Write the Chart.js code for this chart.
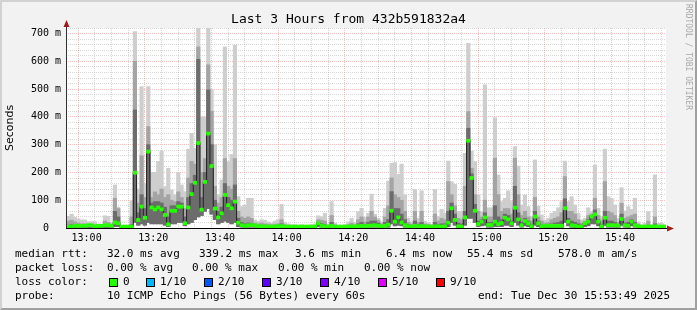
<!DOCTYPE html>
<html>
<head>
<meta charset="utf-8">
<title>Last 3 Hours from 432b591832a4</title>
<script src="https://cdn.jsdelivr.net/npm/chart.js@4.4.1/dist/chart.umd.min.js"></script>
<style>
  html, body { margin: 0; padding: 0; background: #f2f2f2; }
  #graph { position: relative; width: 697px; height: 310px; background: #f2f2f2; overflow: hidden;
           font-family: "DejaVu Sans Mono", monospace; color: #000; }
  #graph canvas { position: absolute; left: 0; top: 0; }
  .frame { position: absolute; left: 0; top: 0; width: 697px; height: 310px; box-sizing: border-box;
           border-top: 2px solid #d2d2d2; border-left: 2px solid #d2d2d2;
           border-right: 2px solid #a0a0a0; border-bottom: 2px solid #a0a0a0; pointer-events: none; }
  .title { position: absolute; left: 0; top: 10px; width: 697px; text-align: center; font-size: 13px; line-height: 18px; }
  .wm { position: absolute; left: 683px; top: 4px; writing-mode: vertical-rl; font-size: 8px; line-height: 10px; color: #a8a8a8; }
  .t { position: absolute; font-size: 11px; line-height: 14px; white-space: pre; }
  .sq { position: absolute; width: 7px; height: 7px; border: 1px solid #000; }
</style>
</head>
<body>
<div id="graph">
  <canvas id="chart" width="697" height="310"></canvas>
  <div class="title">Last 3 Hours from 432b591832a4</div>
  <div class="wm">RRDTOOL / TOBI OETIKER</div>
  <div id="legend"></div>
  <div class="frame"></div>
</div>
<script>
// one sample per minute, first sample = 12:54 (minutes counted from 13:00)
const startMinute = -6;
const axisStart = -6.18;   // 12:53:49
const axisEnd = 173.82;    // 15:53:49

const xTickLabels = ['13:00', '13:20', '13:40', '14:00', '14:20', '14:40', '15:00', '15:20', '15:40'];
const yTickLabels = ['0  ', '100 m', '200 m', '300 m', '400 m', '500 m', '600 m', '700 m'];

// rtt in ms
const rttMax = [
  42, 50, 38, 32, 29, 29, 23, 23, 23, 14,
  12, 44, 42, 20, 155, 75, 10, 10, 10, 98,
  707, 140, 509, 160, 509, 200, 200, 240, 277, 149,
  215, 137, 119, 200, 155, 131, 284, 341, 287, 719,
  400, 400, 720, 500, 300, 120, 173, 652, 239, 265,
  658, 113, 77, 83, 107, 107, 29, 24, 30, 28,
  22, 18, 25, 30, 85, 20, 15, 12, 12, 10,
  12, 10, 10, 12, 15, 44, 40, 53, 15, 95,
  18, 10, 10, 12, 22, 35, 20, 59, 71, 38,
  53, 122, 50, 35, 22, 71, 169, 233, 235, 193,
  230, 119, 35, 22, 139, 35, 134, 25, 20, 14,
  139, 41, 67, 53, 241, 167, 157, 59, 59, 269,
  665, 277, 239, 119, 59, 515, 73, 73, 397, 191,
  95, 107, 134, 95, 293, 223, 83, 119, 77, 41,
  245, 79, 47, 29, 35, 53, 59, 73, 95, 241,
  95, 113, 83, 53, 29, 35, 73, 59, 227, 71,
  41, 284, 113, 107, 83, 35, 145, 61, 77, 67,
  107, 22, 12, 17, 59, 12, 191, 17, 17, 12
];
const rttHigh = [
  25, 28, 22, 18, 15, 15, 13, 12, 12, 9,
  8, 25, 20, 12, 107, 70, 8, 8, 8, 40,
  600, 90, 260, 110, 365, 110, 130, 120, 140, 110,
  120, 100, 95, 130, 110, 70, 180, 240, 230, 652,
  200, 250, 587, 420, 150, 90, 110, 250, 150, 140,
  250, 60, 40, 35, 40, 35, 18, 15, 18, 15,
  14, 12, 14, 15, 30, 12, 10, 9, 9, 8,
  9, 8, 8, 9, 10, 30, 28, 25, 10, 45,
  12, 8, 8, 9, 12, 18, 12, 30, 40, 22,
  40, 60, 40, 28, 15, 40, 80, 180, 120, 110,
  100, 60, 20, 14, 60, 20, 60, 15, 13, 10,
  50, 25, 35, 30, 167, 120, 80, 35, 30, 150,
  419, 215, 120, 60, 40, 100, 40, 40, 251, 120,
  60, 70, 70, 50, 251, 120, 45, 60, 40, 25,
  110, 40, 25, 18, 20, 30, 35, 40, 55, 185,
  60, 60, 50, 30, 18, 25, 45, 50, 107, 45,
  25, 167, 60, 55, 45, 20, 89, 35, 40, 45,
  50, 14, 9, 10, 25, 9, 40, 10, 10, 9
];
const rttDark = [
  10, 12, 10, 9, 8, 8, 8, 8, 8, 6,
  6, 12, 10, 8, 60, 40, 6, 6, 6, 12,
  425, 55, 120, 70, 300, 90, 95, 95, 90, 75,
  40, 80, 80, 95, 90, 40, 110, 160, 190, 607,
  110, 200, 497, 300, 100, 60, 75, 160, 110, 100,
  155, 35, 20, 15, 18, 15, 12, 10, 10, 10,
  9, 8, 9, 10, 15, 8, 7, 7, 7, 6,
  7, 6, 6, 7, 7, 20, 15, 12, 7, 20,
  8, 6, 6, 7, 8, 10, 8, 15, 20, 12,
  20, 25, 25, 18, 10, 20, 30, 131, 70, 70,
  50, 30, 12, 9, 25, 12, 20, 10, 9, 8,
  20, 12, 15, 15, 60, 90, 50, 18, 15, 60,
  359, 195, 85, 25, 30, 55, 20, 20, 80, 40,
  30, 50, 45, 25, 150, 55, 20, 35, 25, 12,
  60, 25, 12, 10, 12, 15, 18, 20, 25, 105,
  35, 25, 20, 15, 10, 20, 30, 45, 65, 30,
  12, 60, 25, 25, 20, 12, 50, 18, 20, 30,
  20, 9, 7, 7, 10, 7, 15, 7, 7, 7
];
const rttMed = [
  5, 5, 8, 8, 8, 8, 10, 10, 6, 8,
  8, 10, 10, 8, 20, 17, 5, 5, 5, 5,
  199, 29, 77, 37, 275, 74, 67, 74, 67, 47,
  13, 62, 62, 77, 77, 17, 74, 122, 163, 306,
  66, 166, 340, 223, 70, 38, 53, 119, 82, 71,
  95, 19, 10, 7, 10, 10, 10, 6, 6, 6,
  5, 5, 6, 6, 7, 5, 5, 5, 5, 5,
  5, 5, 5, 5, 5, 17, 8, 6, 5, 8,
  5, 5, 5, 5, 5, 6, 5, 7, 8, 7,
  8, 9, 10, 8, 6, 8, 12, 62, 23, 38,
  20, 10, 6, 5, 8, 6, 7, 6, 5, 5,
  6, 6, 5, 6, 19, 71, 29, 6, 5, 38,
  314, 180, 62, 14, 23, 38, 11, 11, 23, 14,
  18, 37, 31, 17, 73, 31, 10, 25, 17, 6,
  41, 17, 6, 8, 8, 8, 8, 8, 8, 71,
  23, 10, 8, 5, 5, 17, 23, 41, 49, 23,
  6, 37, 10, 10, 10, 8, 32, 10, 8, 23,
  10, 6, 5, 5, 6, 5, 6, 5, 5, 5
];
const rttMin = [
  2, 2, 2, 2, 2, 2, 2, 2, 2, 2,
  2, 2, 2, 2, 5, 5, 2, 2, 2, 2,
  20, 10, 15, 10, 20, 15, 15, 15, 15, 10,
  5, 15, 15, 20, 20, 8, 15, 20, 30, 40,
  45, 60, 70, 50, 30, 15, 20, 25, 20, 15,
  20, 5, 3, 3, 3, 3, 3, 2, 2, 2,
  2, 2, 2, 2, 2, 2, 2, 2, 2, 2,
  2, 2, 2, 2, 2, 5, 3, 2, 2, 3,
  2, 2, 2, 2, 2, 2, 2, 3, 3, 3,
  3, 3, 3, 3, 2, 3, 3, 15, 8, 10,
  8, 3, 2, 2, 3, 2, 3, 2, 2, 2,
  2, 2, 2, 2, 5, 20, 10, 2, 2, 10,
  35, 35, 20, 5, 8, 10, 3, 3, 5, 5,
  5, 10, 10, 5, 20, 10, 3, 8, 5, 2,
  10, 5, 2, 2, 2, 2, 2, 2, 2, 20,
  8, 3, 2, 2, 2, 5, 8, 15, 15, 8,
  2, 10, 3, 3, 3, 2, 10, 3, 2, 8,
  3, 2, 2, 2, 2, 2, 2, 2, 2, 2
];

const lossLabels = ['0', '1/10', '2/10', '3/10', '4/10', '5/10', '9/10'];
const lossColors = ['#26ff00', '#00b8ff', '#0059ff', '#5e00ff', '#7e00ff', '#dd00ff', '#ff0000'];

const legendRows = [
  ['median rtt:', '32.0 ms avg', '339.2 ms max', '3.6 ms min', '6.4 ms now', '55.4 ms sd', '578.0 m am/s'],
  ['packet loss:', '0.00 % avg', '0.00 % max', '0.00 % min', '0.00 % now'],
  ['probe:', '10 ICMP Echo Pings (56 Bytes) every 60s', 'end: Tue Dec 30 15:53:49 2025']
];

// ---- legend text under the graph ----
const legend = document.getElementById('legend');
function addText(txt, left, top) {
  const d = document.createElement('div');
  d.className = 't';
  d.textContent = txt;
  d.style.left = left + 'px';
  d.style.top = top + 'px';
  legend.appendChild(d);
}
const rowLefts = [
  [15, 107, 199, 295, 386, 467, 558],
  [15, 107, 192, 278, 364],
  [15, 107, 478]
];
legendRows[0].forEach((s, i) => addText(s, rowLefts[0][i], 247));
legendRows[1].forEach((s, i) => addText(s, rowLefts[1][i], 261));
legendRows[2].forEach((s, i) => addText(s, rowLefts[2][i], 289));
addText('loss color:', 15, 275);
lossLabels.forEach((lab, i) => {
  const x = i === 0 ? 109 : 146 + (i - 1) * 58;
  const sq = document.createElement('div');
  sq.className = 'sq';
  sq.style.left = x + 'px';
  sq.style.top = '278px';
  sq.style.background = lossColors[i];
  legend.appendChild(sq);
  addText(lab, x + 14, 275);
});

// ---- chart ----
const centers = rttMed.map((_, i) => startMinute + i + 0.5);
const band = (lo, hi) => centers.map((x, i) => ({ x: x, y: [lo[i], hi[i]] }));

const majorGrid = 'rgba(232, 120, 120, 0.45)';
const minorGrid = 'rgba(160, 160, 160, 0.42)';
const tickFont = { family: 'DejaVu Sans Mono', size: 10 };

const barStyle = { type: 'bar', barThickness: 3.5, grouped: false, borderWidth: 0 };

const plotBg = {
  id: 'plotBg',
  beforeDraw(chart) {
    const a = chart.chartArea, ctx = chart.ctx;
    ctx.save();
    ctx.fillStyle = '#ffffff';
    ctx.fillRect(a.left, a.top, a.right - a.left, a.bottom - a.top);
    ctx.restore();
  }
};

const axesArrows = {
  id: 'axesArrows',
  afterDatasetsDraw(chart) {
    const a = chart.chartArea, ctx = chart.ctx;
    ctx.save();
    ctx.lineWidth = 1;
    ctx.strokeStyle = '#303030';
    ctx.beginPath();
    ctx.moveTo(a.left + 0.5, a.bottom + 1);
    ctx.lineTo(a.left + 0.5, a.top - 1);
    ctx.stroke();
    ctx.strokeStyle = '#000000';
    ctx.beginPath();
    ctx.moveTo(a.left, a.bottom + 0.5);
    ctx.lineTo(a.right + 2, a.bottom + 0.5);
    ctx.stroke();
    ctx.fillStyle = '#a01c1c';
    ctx.beginPath();
    ctx.moveTo(a.left + 0.5, a.top - 8);
    ctx.lineTo(a.left - 2.5, a.top - 1);
    ctx.lineTo(a.left + 3.5, a.top - 1);
    ctx.closePath();
    ctx.fill();
    ctx.beginPath();
    ctx.moveTo(a.right + 8, a.bottom + 0.5);
    ctx.lineTo(a.right + 1, a.bottom - 2.5);
    ctx.lineTo(a.right + 1, a.bottom + 3.5);
    ctx.closePath();
    ctx.fill();
    ctx.restore();
  }
};

new Chart(document.getElementById('chart'), {
  type: 'bar',
  data: {
    datasets: [
      Object.assign({ data: band(rttMin, rttMax), backgroundColor: '#cecece', order: 5 }, barStyle),
      Object.assign({ data: band(rttMin, rttHigh), backgroundColor: '#a4a4a4', order: 4 }, barStyle),
      Object.assign({ data: band(rttMin, rttDark), backgroundColor: '#6c6c6c', order: 3 }, barStyle),
      {
        type: 'line',
        data: centers.map((x, i) => ({ x: x, y: rttMed[i] })),
        stepped: 'middle',
        borderColor: '#202020',
        borderWidth: 1,
        pointRadius: 0,
        order: 2
      },
      Object.assign({
        data: centers.map((x, i) => ({ x: x, y: [rttMed[i] - 5.5, rttMed[i] + 5.5] })),
        backgroundColor: lossColors[0],
        order: 1
      }, barStyle)
    ]
  },
  options: {
    responsive: false,
    animation: false,
    events: [],
    devicePixelRatio: 1,
    layout: { padding: { left: 0, right: 31, top: 28, bottom: 0 } },
    plugins: { legend: { display: false }, tooltip: { enabled: false } },
    scales: {
      x: {
        type: 'linear',
        min: axisStart,
        max: axisEnd,
        offset: false,
        afterBuildTicks: axis => {
          const t = [];
          for (let v = -5; v <= axisEnd; v += 5) t.push({ value: v });
          axis.ticks = t;
        },
        afterFit: s => { s.height = 82; },
        grid: {
          color: c => (c.tick && c.tick.value % 20 === 0) ? majorGrid : minorGrid,
          lineWidth: 1,
          drawTicks: false
        },
        border: { display: false, dash: [1, 1] },
        ticks: {
          autoSkip: false,
          maxRotation: 0,
          padding: 4,
          color: '#000',
          font: tickFont,
          callback: v => (v % 20 === 0 && v >= 0) ? xTickLabels[v / 20] : ''
        }
      },
      y: {
        min: 0,
        max: 720,
        afterFit: s => { s.width = 66; },
        grid: {
          color: c => (c.tick && c.tick.value % 100 === 0) ? majorGrid : minorGrid,
          lineWidth: 1,
          drawTicks: false
        },
        border: { display: false, dash: [1, 1] },
        ticks: {
          stepSize: 20,
          autoSkip: false,
          padding: 5,
          color: '#000',
          font: tickFont,
          callback: v => v % 100 === 0 ? yTickLabels[v / 100] : ''
        },
        title: {
          display: true,
          text: 'Seconds',
          color: '#000',
          font: { family: 'DejaVu Sans', size: 11 },
          padding: { top: 4, bottom: 0 }
        }
      }
    }
  },
  plugins: [plotBg, axesArrows]
});
</script>
</body>
</html>
